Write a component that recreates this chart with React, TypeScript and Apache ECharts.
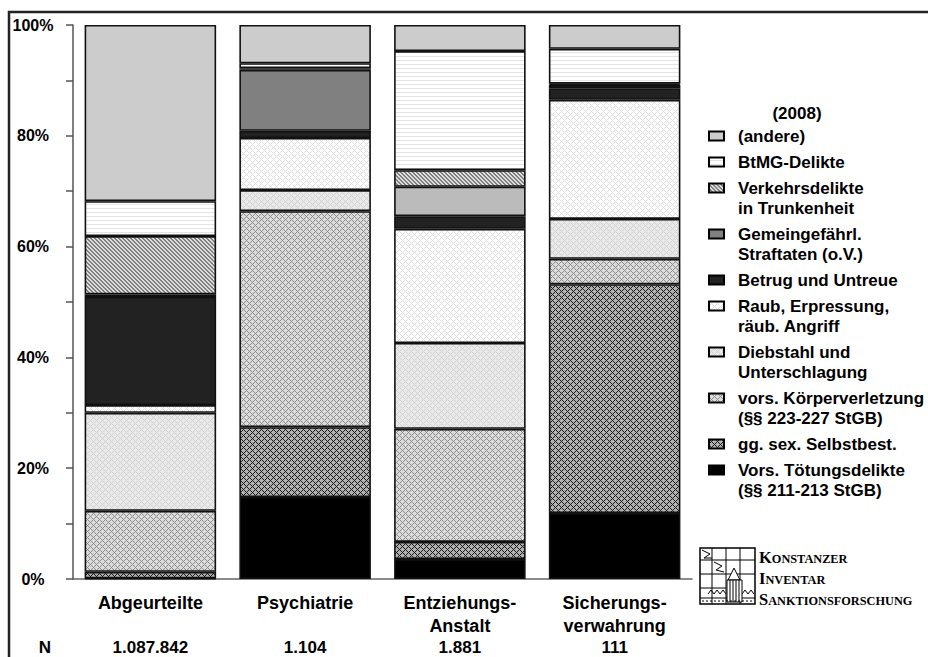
import React, { useEffect, useRef } from 'react';
import * as echarts from 'echarts';

// ---- data ----
const categories = ['Abgeurteilte', 'Psychiatrie', 'Entziehungs-\nAnstalt', 'Sicherungs-\nverwahrung'];
const nValues = ['1.087.842', '1.104', '1.881', '111'];
const legendTitle = '(2008)';

// series, bottom to top (percent shares)
const seriesNames = [
  'Vors. Tötungsdelikte\n(§§ 211-213 StGB)',
  'gg. sex. Selbstbest.',
  'vors. Körperverletzung\n(§§ 223-227 StGB)',
  'Diebstahl und\nUnterschlagung',
  'Raub, Erpressung,\nräub. Angriff',
  'Betrug und Untreue',
  'Gemeingefährl.\nStraftaten (o.V.)',
  'Verkehrsdelikte\nin Trunkenheit',
  'BtMG-Delikte',
  '(andere)',
];
const toetung = [0.1, 14.8, 3.6, 11.9];
const sexSelbst = [1.2, 12.6, 3.1, 41.3];
const koerperverl = [11.0, 39.0, 20.4, 4.6];
const diebstahl = [17.7, 3.8, 15.5, 7.2];
const raub = [1.4, 9.4, 20.6, 21.5];
const betrug = [19.5, 1.3, 2.3, 2.1];
const gemeingef = [0.5, 11.0, 5.3, 0.6];
const verkehr = [10.5, 0.3, 3.0, 0.2];
const btmg = [6.3, 0.9, 21.5, 6.3];
const andere = [31.8, 6.9, 4.7, 4.3];
const seriesValues = [toetung, sexSelbst, koerperverl, diebstahl, raub, betrug, gemeingef, verkehr, btmg, andere];

const FONT = '"Liberation Sans", Arial, sans-serif';

function makePattern(size: number, base: string, ink: string, test: (x: number, y: number) => boolean) {
  const c = document.createElement('canvas');
  c.width = size;
  c.height = size;
  const ctx = c.getContext('2d')!;
  ctx.fillStyle = base;
  ctx.fillRect(0, 0, size, size);
  ctx.fillStyle = ink;
  for (let y = 0; y < size; y++) {
    for (let x = 0; x < size; x++) {
      if (test(x, y)) ctx.fillRect(x, y, 1, 1);
    }
  }
  return { image: c, repeat: 'repeat', imageWidth: size, imageHeight: size } as any;
}

const diamond = (p: number) => (x: number, y: number) => (x + y) % p === 0 || (x - y + p) % p === 0;

export default function App() {
  const ref = useRef<HTMLDivElement>(null);
  useEffect(() => {
    if (!ref.current) return;
    const chart = echarts.init(ref.current, null, { renderer: 'svg' });

    const fills: any[] = [
      '#000000',
      makePattern(6, '#b0b0b0', '#1a1a1a', diamond(6)),
      makePattern(6, '#dcdcdc', '#8c8c8c', diamond(6)),
      makePattern(6, '#e9e9e9', '#d2d2d2', diamond(6)),
      makePattern(6, '#ffffff', '#e0e0e0', diamond(6)),
      '#222222',
      '#808080',
      makePattern(4, '#dedede', '#808080', (x, y) => (x - y + 8) % 4 < 2),
      makePattern(4, '#ffffff', '#e4e4e4', (x, y) => y === 0),
      '#cccccc',
    ];

    const series = seriesNames.map((name, i) => ({
      name,
      type: 'bar',
      stack: 'total',
      barWidth: '85%',
      data: seriesValues[i].map((v, j) =>
        i === 6 && j === 2 ? { value: v, itemStyle: { color: '#bbbbbb' } } : v
      ),
      itemStyle: { color: fills[i], borderColor: '#111', borderWidth: 1.6 },
    }));

    const graphics: any[] = [];
    graphics.push({
      type: 'polyline',
      shape: { points: [[9, 660], [9, 12], [930, 12]] },
      style: { stroke: '#222', lineWidth: 2.5, fill: null },
    });
    graphics.push({
      type: 'text',
      x: 797,
      y: 113,
      style: { text: legendTitle, fontSize: 17, fontWeight: 'bold', fontFamily: FONT, fill: '#000', align: 'center', verticalAlign: 'middle' },
    });
    let ly = 136;
    for (let k = seriesNames.length - 1; k >= 0; k--) {
      const lines = seriesNames[k].split('\n').length;
      graphics.push({
        type: 'rect',
        shape: { x: 709, y: ly - 4.5, width: 15, height: 9 },
        style: { fill: fills[k], stroke: '#000', lineWidth: 2 },
      });
      graphics.push({
        type: 'text',
        x: 738,
        y: ly - 10,
        style: { text: seriesNames[k], fontSize: 17, fontWeight: 'bold', fontFamily: FONT, fill: '#000', lineHeight: 20, verticalAlign: 'top' },
      });
      ly += lines * 20 + 6;
    }
    graphics.push({
      type: 'text',
      x: 45,
      y: 647,
      style: { text: 'N', fontSize: 17, fontWeight: 'bold', fontFamily: FONT, fill: '#000', align: 'center', verticalAlign: 'middle' },
    });
    const L = '"Liberation Serif", "Times New Roman", serif';
    graphics.push({
      type: 'group',
      x: 700,
      y: 548,
      children: [
        { type: 'rect', shape: { x: 0, y: 0, width: 55, height: 56 }, style: { fill: '#fff', stroke: '#000', lineWidth: 1.5 } },
        { type: 'line', shape: { x1: 12, y1: 0, x2: 12, y2: 56 }, style: { stroke: '#000', lineWidth: 1 } },
        { type: 'line', shape: { x1: 26, y1: 0, x2: 26, y2: 56 }, style: { stroke: '#000', lineWidth: 1 } },
        { type: 'line', shape: { x1: 40, y1: 0, x2: 40, y2: 56 }, style: { stroke: '#000', lineWidth: 1 } },
        { type: 'line', shape: { x1: 0, y1: 12, x2: 55, y2: 12 }, style: { stroke: '#000', lineWidth: 1 } },
        { type: 'line', shape: { x1: 0, y1: 26, x2: 55, y2: 26 }, style: { stroke: '#000', lineWidth: 1 } },
        { type: 'line', shape: { x1: 0, y1: 40, x2: 26, y2: 40 }, style: { stroke: '#000', lineWidth: 1 } },
        { type: 'line', shape: { x1: 0, y1: 50, x2: 55, y2: 50 }, style: { stroke: '#000', lineWidth: 1 } },
        { type: 'polyline', shape: { points: [[2, 2], [10, 6], [4, 10], [12, 10]] }, style: { stroke: '#000', lineWidth: 1, fill: null } },
        { type: 'polyline', shape: { points: [[14, 14], [22, 18], [16, 22], [24, 24]] }, style: { stroke: '#000', lineWidth: 1, fill: null } },
        { type: 'polygon', shape: { points: [[28, 32], [34, 20], [40, 32]] }, style: { stroke: '#000', lineWidth: 1, fill: '#fff' } },
        { type: 'rect', shape: { x: 27, y: 32, width: 15, height: 22 }, style: { fill: '#fff', stroke: '#000', lineWidth: 1 } },
        { type: 'line', shape: { x1: 30, y1: 32, x2: 30, y2: 54 }, style: { stroke: '#000', lineWidth: 1 } },
        { type: 'line', shape: { x1: 33, y1: 32, x2: 33, y2: 54 }, style: { stroke: '#000', lineWidth: 1 } },
        { type: 'line', shape: { x1: 36, y1: 32, x2: 36, y2: 54 }, style: { stroke: '#000', lineWidth: 1 } },
        { type: 'line', shape: { x1: 39, y1: 32, x2: 39, y2: 54 }, style: { stroke: '#000', lineWidth: 1 } },
        { type: 'polyline', shape: { points: [[8, 46], [11, 42], [14, 46], [17, 42], [20, 46], [23, 42], [26, 46]] }, style: { stroke: '#000', lineWidth: 1, fill: null } },
        { type: 'polyline', shape: { points: [[42, 46], [45, 42], [48, 46], [51, 42], [54, 46]] }, style: { stroke: '#000', lineWidth: 1, fill: null } },
        { type: 'line', shape: { x1: 2, y1: 53, x2: 53, y2: 53 }, style: { stroke: '#000', lineWidth: 1, lineDash: [2, 2] } },
      ],
    });
    const logoLines = [
      ['K', 'ONSTANZER'],
      ['I', 'NVENTAR'],
      ['S', 'ANKTIONSFORSCHUNG'],
    ];
    logoLines.forEach((pair, i) => {
      graphics.push({
        type: 'text',
        x: 759,
        y: 557 + i * 21,
        style: {
          text: `{b|${pair[0]}}{s|${pair[1]}}`,
          verticalAlign: 'middle',
          rich: {
            b: { fontSize: 16.5, fontFamily: L, fontWeight: 'bold', fill: '#000' },
            s: { fontSize: 12.3, fontFamily: L, fontWeight: 'bold', fill: '#000', padding: [3, 0, 0, 0] },
          },
        },
      });
    });

    chart.setOption({
      animation: false,
      backgroundColor: '#fff',
      grid: { left: 73, right: 236, top: 25, bottom: 78, containLabel: false },
      xAxis: [
        {
          type: 'category',
          data: categories,
          position: 'bottom',
          axisLine: { show: true, lineStyle: { color: '#666', width: 1.5 } },
          axisTick: { show: false },
          axisLabel: { interval: 0, margin: 12, fontSize: 18, fontWeight: 'bold', fontFamily: FONT, color: '#000', lineHeight: 23 },
        },
        {
          type: 'category',
          data: nValues,
          position: 'bottom',
          gridIndex: 0,
          axisLine: { show: false },
          axisTick: { show: false },
          axisLabel: { interval: 0, margin: 59.5, fontSize: 17, fontWeight: 'bold', fontFamily: FONT, color: '#000' },
        },
      ],
      yAxis: {
        type: 'value',
        min: 0,
        max: 100,
        interval: 10,
        axisLine: { show: true, lineStyle: { color: '#555', width: 1.5 } },
        axisTick: { show: true, length: 7, lineStyle: { color: '#555', width: 1.5 } },
        splitLine: { show: false },
        axisLabel: {
          formatter: (v: number) => (v % 20 === 0 ? v + '%' : ''),
          fontSize: 16,
          fontWeight: 'bold',
          fontFamily: FONT,
          color: '#000',
          margin: 40,
          align: 'center',
        },
      },
      series,
      graphic: graphics,
    });

    return () => chart.dispose();
  }, []);

  return <div ref={ref} style={{ position: 'fixed', left: 0, top: 0, width: 928, height: 657 }} />;
}
